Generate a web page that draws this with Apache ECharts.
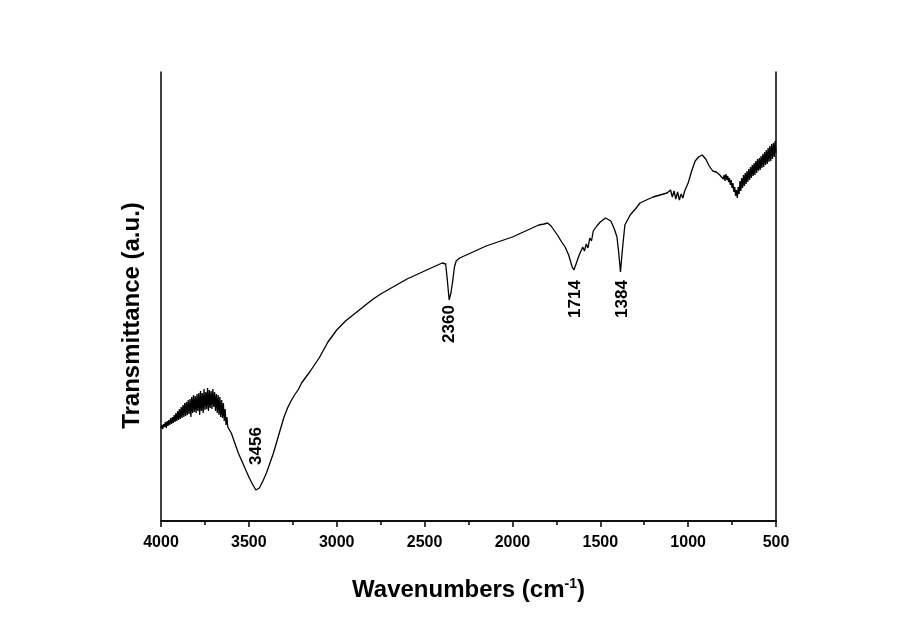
<!DOCTYPE html>
<html>
<head>
<meta charset="utf-8">
<script src="https://cdn.jsdelivr.net/npm/echarts@6/dist/echarts.min.js"></script>
<style>html,body{margin:0;padding:0;background:#fff;}#c{width:900px;height:626px;}</style>
</head>
<body>
<div id="c"></div>
<script>
// Wavenumbers (cm-1) and transmittance (arbitrary units)
const wavenumbers = [
 4000,3995,3990,3985,3980,3975,3970,3965,3960,3955,3950,3945,3940,3935,3930,3925,3920,3915,3910,3905,
 3900,3895,3890,3885,3880,3875,3870,3865,3860,3855,3850,3845,3840,3835,3830,3825,3820,3815,3810,3805,
 3800,3795,3790,3785,3780,3775,3770,3765,3760,3755,3750,3745,3740,3735,3730,3725,3720,3715,3710,3705,
 3700,3695,3690,3685,3680,3675,3670,3665,3660,3655,3650,3645,3640,3635,3630,3625,3620,3600,
 3580,3560,3540,3520,3500,3480,3460,3450,3440,3420,3400,3380,3360,3340,3320,3300,3280,3260,3240,3220,
 3200,3150,3100,3050,3000,2950,2900,2850,2800,2750,2700,2650,2600,2550,2500,2450,2400,2380,2370,2360,
 2350,2340,2330,2320,2300,2250,2200,2150,2100,2050,2000,1950,1900,1850,1820,1800,1780,1760,1740,1720,
 1700,1680,1660,1650,1640,1620,1600,1590,1580,1570,1560,1550,1540,1520,1500,1470,1440,1420,1405,1395,
 1385,1375,1360,1330,1300,1274,1250,1200,1160,1120,1100,1090,1080,1070,1060,1050,1040,1030,1020,1000,
 980,960,940,920,900,880,860,840,820,
 800,795,790,785,780,775,770,765,760,755,750,745,740,735,730,725,720,715,710,705,
 700,695,690,685,680,675,670,665,660,655,650,645,640,635,630,625,620,615,610,605,
 600,595,590,585,580,575,570,565,560,555,550,545,540,535,530,525,520,515,510,505,500
];
const transmittance = [
 93,96,92,97,94,99,93,100,95,101,96,103,97,104,98,106,99,108,100,110,
 101,112,102,114,103,116,104,118,105,119,106,121,107,122,104,124,108,126,109,125,
 108,127,110,128,106,130,110,128,108,132,111,129,112,133,110,131,113,130,112,132,
 114,129,110,127,108,126,106,124,104,121,103,118,100,112,96,104,94,88,
 78,68,60,52,44,37,31,30,33,40,48,58,68,80,92,104,113,120,126,131,
 138,150,163,179,191,200,207,214,221,227,232,237,242,246,250,254,258,257,240,221,
 228,240,254,260,263,267,271,275,278,281,284,288,292,296,297,298,295,290,285,279,
 274,266,254,251,256,266,274,270,277,273,283,280,290,295,299,303,300,292,284,268,
 249,270,296,306,312,318,320,324,326,328,331,324,330,322,329,321,327,323,330,338,
 350,360,364,366,362,355,350,349,346,
 342,346,340,347,341,345,339,343,336,341,333,338,329,334,325,331,323,334,327,340,
 330,343,333,346,335,348,337,350,339,352,341,354,343,356,345,358,346,360,348,362,
 350,363,351,365,353,367,354,369,356,371,357,373,359,375,360,377,362,378,364,380,368
];
// Peak annotations: label text and anchor position
const peakLabels = ['3456','2360','1714','1384'];
const peakLabelX = [3459,2361,1644,1376];
const peakLabelY = [75,197,222,222];
const xTicks = [4000,3500,3000,2500,2000,1500,1000,500];

const chart = echarts.init(document.getElementById('c'), null, {renderer:'canvas'});
const lineData = wavenumbers.map((w,i)=>[w, transmittance[i]]);
const font = 'Arial, "Liberation Sans", sans-serif';
const axisLine = {show:true, lineStyle:{color:'#000', width:1.5}};
chart.setOption({
  backgroundColor:'#fff',
  animation:false,
  grid:{left:161, right:124, top:72, bottom:105},
  xAxis:[{
    type:'value', min:500, max:4000, interval:500, inverse:true,
    position:'bottom',
    axisLine:axisLine,
    axisTick:{show:true, inside:false, length:6, lineStyle:{color:'#000', width:1.5}},
    minorTick:{show:true, splitNumber:2, length:4, lineStyle:{color:'#000', width:1.5}},
    splitLine:{show:false},
    axisLabel:{color:'#000', fontFamily:font, fontWeight:'bold', fontSize:16, margin:14,
      formatter:(v)=> xTicks.indexOf(v) >= 0 ? String(v) : ''},
    name:'Wavenumbers (cm{sup|-1})',
    nameLocation:'middle', nameGap:56,
    nameTextStyle:{color:'#000', fontFamily:font, fontWeight:'bold', fontSize:24,
      rich:{sup:{fontSize:14, fontWeight:'bold', fontFamily:font, color:'#000', padding:[0,0,12,0]}}}
  },{
    type:'value', min:500, max:4000, inverse:true, position:'top',
    axisLine:axisLine, axisTick:{show:false}, axisLabel:{show:false}, splitLine:{show:false}
  }],
  yAxis:[{
    type:'value', min:0, max:449, position:'left',
    axisLine:axisLine, axisTick:{show:false}, axisLabel:{show:false}, splitLine:{show:false},
    name:'Transmittance (a.u.)', nameLocation:'middle', nameGap:17,
    nameTextStyle:{color:'#000', fontFamily:font, fontWeight:'bold', fontSize:24, padding:[0,38,0,0]}
  },{
    type:'value', min:0, max:449, position:'right',
    axisLine:axisLine, axisTick:{show:false}, axisLabel:{show:false}, splitLine:{show:false}
  }],
  series:[{
    type:'line', data:lineData, showSymbol:false, symbol:'none',
    lineStyle:{color:'#000', width:1.3}, silent:true,
    markPoint:{
      symbol:'circle', symbolSize:0, silent:true,
      data: peakLabels.map((t,i)=>({coord:[peakLabelX[i], peakLabelY[i]], value:t,
        label:{show:true, formatter:t, rotate:90, position:'inside', color:'#000',
          fontFamily:font, fontWeight:'bold', fontSize:17}}))
    }
  }]
});
</script>
</body>
</html>
